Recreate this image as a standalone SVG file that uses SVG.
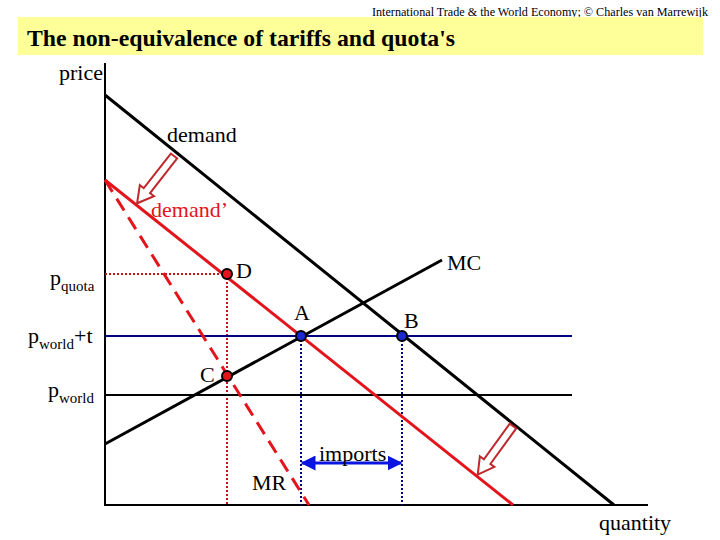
<svg xmlns="http://www.w3.org/2000/svg" width="720" height="540" viewBox="0 0 720 540">
<defs>
<style>
.t{font-family:"Liberation Serif","Times New Roman",serif;font-size:22px;fill:#000}
.s{font-size:15px}
.ax{stroke:#000;stroke-width:2;fill:none}
.blk{stroke:#000;stroke-width:3;fill:none}
.red{stroke:#e3141b;stroke-width:3;fill:none}
.dotr{stroke:#c0141b;stroke-width:2;stroke-dasharray:2 2;fill:none}
.dotb{stroke:#000080;stroke-width:2;stroke-dasharray:2 2;fill:none}
.harrow{fill:#fff;stroke:#c0282d;stroke-width:2}
.ptr{fill:#e3141b;stroke:#000;stroke-width:2}
.ptb{fill:#1a2ad0;stroke:#000;stroke-width:2}
</style>
<marker id="ah" viewBox="0 0 10 10" refX="9" refY="5" markerWidth="5" markerHeight="5" orient="auto-start-reverse" markerUnits="strokeWidth">
<path d="M0,0 L10,5 L0,10 z" fill="#0a14e0"/>
</marker>
</defs>
<rect width="720" height="540" fill="#fff"/>
<text x="372" y="16" font-family="Liberation Serif, Times New Roman, serif" font-size="12" textLength="336" lengthAdjust="spacingAndGlyphs">International Trade &amp; the World Economy;  © Charles van Marrewijk</text>
<rect x="18" y="17" width="685" height="38" fill="#ffff99"/>
<text x="27" y="46" font-family="Liberation Serif, Times New Roman, serif" font-size="24" font-weight="bold" textLength="428" lengthAdjust="spacingAndGlyphs">The non-equivalence of tariffs and quota's</text>

<g id="connectors">
<line class="ax" x1="105" y1="63" x2="105" y2="506"/>
<line class="ax" x1="104" y1="505" x2="648" y2="505"/>
<line class="dotr" x1="105" y1="274" x2="227" y2="274"/>
<line class="dotr" x1="227" y1="274" x2="227" y2="505"/>
<line class="dotb" x1="301" y1="336" x2="301" y2="505"/>
<line class="dotb" x1="402" y1="336" x2="402" y2="505"/>
<line stroke="#000" stroke-width="2" x1="105" y1="395" x2="572" y2="395"/>
<line stroke="#000080" stroke-width="2" x1="105" y1="336" x2="572" y2="336"/>
<line id="demand" class="blk" x1="105" y1="95" x2="614" y2="505"/>
<line id="mc" class="blk" x1="105" y1="444" x2="442" y2="260"/>
<line id="demand2" class="red" x1="105" y1="180" x2="513" y2="505"/>
<line id="mr" class="red" stroke-dasharray="14 8" x1="105" y1="180" x2="309" y2="505"/>
<line id="imports-arrow" stroke="#0a14e0" stroke-width="3" x1="302" y1="463" x2="401" y2="463" marker-start="url(#ah)" marker-end="url(#ah)"/>
<polygon class="harrow" points="0,-4 44,-4 44,-9 60,0 44,9 44,4 0,4" transform="translate(174,156) rotate(128)"/>
<polygon class="harrow" points="0,-4 44,-4 44,-9 60,0 44,9 44,4 0,4" transform="translate(513,426) rotate(126)"/>
</g>

<g id="point-D"><circle class="ptr" cx="227" cy="274" r="5"/><text class="t" x="236" y="278">D</text></g>
<g id="point-A"><circle class="ptb" cx="301" cy="336" r="5"/><text class="t" x="294" y="320">A</text></g>
<g id="point-B"><circle class="ptb" cx="402" cy="336" r="5"/><text class="t" x="404" y="328">B</text></g>
<g id="point-C"><circle class="ptr" cx="227" cy="376" r="5"/><text class="t" x="200" y="382">C</text></g>

<g id="labels">
<text class="t" x="59" y="80">price</text>
<text class="t" x="599" y="530">quantity</text>
<text class="t" x="167" y="142">demand</text>
<text class="t" x="151" y="217" style="fill:#e3141b">demand’</text>
<text class="t" x="447" y="270">MC</text>
<text class="t" x="252" y="490">MR</text>
<text class="t" x="319" y="461">imports</text>
<text class="t" x="50" y="285">p<tspan class="s" dy="6">quota</tspan></text>
<text class="t" x="28" y="343">p<tspan class="s" dy="6">world</tspan><tspan dy="-6">+t</tspan></text>
<text class="t" x="48" y="397">p<tspan class="s" dy="6">world</tspan></text>
</g>
</svg>
